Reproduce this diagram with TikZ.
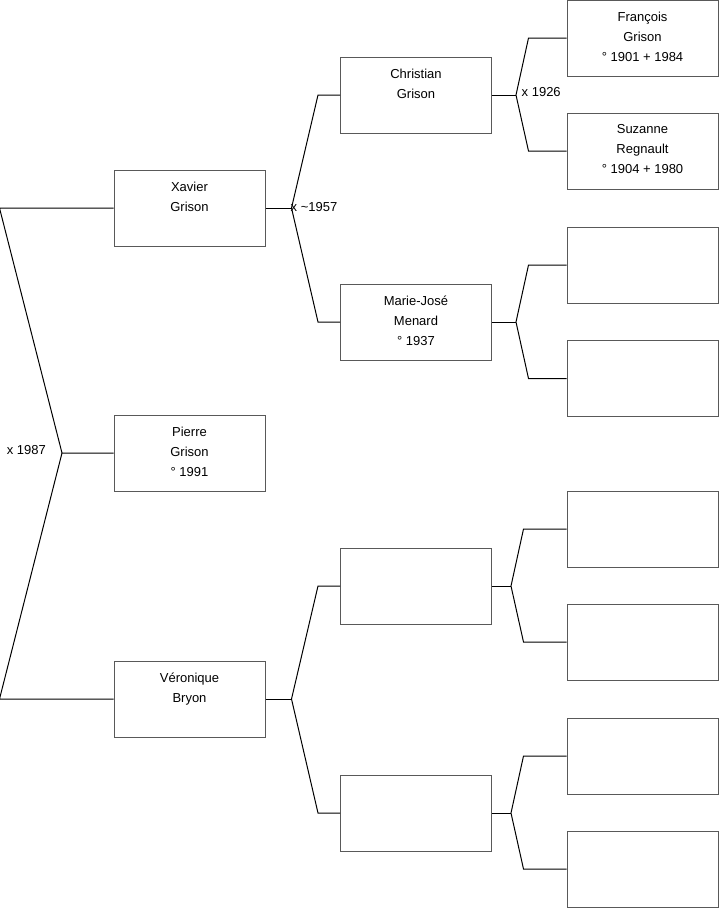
\documentclass[tikz,border=0pt]{standalone}
\usepackage{fontspec}
\setmainfont{Liberation Sans}

\begin{document}
\begin{tikzpicture}[x=1pt,y=-1pt,
    pers/.style={draw=black!65,line width=1pt,minimum width=151pt,
                 minimum height=76pt,inner sep=0pt},
    who/.style={anchor=north,align=center,inner sep=0pt,yshift=-12pt,
                font=\fontsize{13}{20}\selectfont,execute at begin node=\strut},
    tie/.style={draw=black,line width=1pt},
    yr/.style={anchor=west,inner sep=0pt,font=\fontsize{13}{16}\selectfont}]
  \useasboundingbox (0,0) rectangle (719,908);
  % generation 1
  \node[pers,label={[who]north:{Xavier\\Grison}}] (xavier) at (189.5,208) {};
  \node[pers,label={[who]north:{Pierre\\Grison\\° 1991}}] (pierre) at (189.5,453) {};
  \node[pers,label={[who]north:{Véronique\\Bryon}}] (veronique) at (189.5,699) {};
  % generation 2
  \node[pers,label={[who]north:{Christian\\Grison}}] (christian) at (416,95) {};
  \node[pers,label={[who]north:{Marie-José\\Menard\\° 1937}}] (mariejose) at (416,322) {};
  \node[pers] (vfather) at (416,586) {};
  \node[pers] (vmother) at (416,813) {};
  % generation 3
  \node[pers,label={[who]north:{François\\Grison\\° 1901 + 1984}}] (francois) at (642.5,38) {};
  \node[pers,label={[who]north:{Suzanne\\Regnault\\° 1904 + 1980}}] (suzanne) at (642.5,151) {};
  \foreach \n/\y in {mjfather/265,mjmother/378.5,vff/529,vfm/642,vmf/756,vmm/869}
    \node[pers] (\n) at (642.5,\y) {};
  % couples
  \coordinate (jroot) at (62,453);
  \draw[tie] (pierre.west) -- (jroot) -- ([xshift=-114pt]xavier.west) -- (xavier.west);
  \draw[tie] (jroot) -- ([xshift=-114pt]veronique.west) -- (veronique.west);
  \foreach \c/\f/\m/\o/\b in {xavier/christian/mariejose/26/22,
      veronique/vfather/vmother/26/22, christian/francois/suzanne/24/38,
      mariejose/mjfather/mjmother/24/38, vfather/vff/vfm/19/43,
      vmother/vmf/vmm/19/43}
    \draw[tie] (\f.west) -- ([xshift=-\b pt]\f.west)
      -- ([xshift=\o pt]\c.east) coordinate (j\c)
      -- ([xshift=-\b pt]\m.west) -- (\m.west);
  \draw[tie] (xavier.east) -- (jxavier);
  \draw[tie] (veronique.east) -- (jveronique);
  \draw[tie] (christian.east) -- (jchristian);
  \draw[tie] (mariejose.east) -- (jmariejose);
  \draw[tie] (vfather.east) -- (jvfather);
  \draw[tie] (vmother.east) -- (jvmother);
  % marriage years
  \node[yr,anchor=east] (m1987) at ([xshift=-16pt,yshift=3pt]jroot) {x 1987};
  \node[yr] (m1957) at ([xshift=-1pt,yshift=1.3pt]jxavier) {x \textasciitilde1957};
  \node[yr] (m1926) at ([xshift=5.5pt,yshift=2.7pt]jchristian) {x 1926};
\end{tikzpicture}
\end{document}
